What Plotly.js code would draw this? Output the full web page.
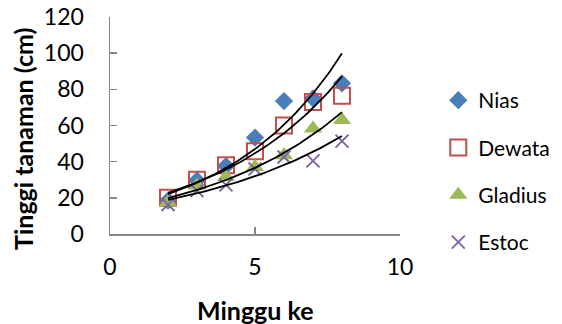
<!DOCTYPE html>
<html>
<head>
<meta charset="utf-8">
<script src="https://cdn.plot.ly/plotly-3.0.1.min.js"></script>
<style>html,body{margin:0;padding:0;background:#fff;}#chart{width:562px;height:324px;}</style>
</head>
<body>
<div id="chart"></div>
<script>
const weeks = [2, 3, 4, 5, 6, 7, 8];
const nias = [18.5, 29.6, 37.6, 53.3, 73.5, 75, 83.3];
const dewata = [20, 30, 38, 45.7, 60, 73, 76.5];
const gladius = [17.6, 26.8, 31.5, 37, 43.5, 58.3, 63];
const estoc = [16.3, 24, 27.2, 36, 42.6, 40.4, 51.4];
const seriesNames = ["Nias", "Dewata", "Gladius", "Estoc"];
const xTicks = [0, 5, 10];
const yTicks = [0, 20, 40, 60, 80, 100, 120];

const FONT = "Lato, 'Open Sans', sans-serif";

// Exponential trendline (least squares on ln y), as in the source chart
function expTrend(xs, ys) {
  const n = xs.length;
  const ly = ys.map(v => Math.log(v));
  const mx = xs.reduce((a, b) => a + b, 0) / n;
  const my = ly.reduce((a, b) => a + b, 0) / n;
  let sxy = 0, sxx = 0;
  for (let i = 0; i < n; i++) { sxy += (xs[i] - mx) * (ly[i] - my); sxx += (xs[i] - mx) ** 2; }
  const b = sxy / sxx, a = my - b * mx;
  const x0 = Math.min(...xs), x1 = Math.max(...xs);
  const tx = [], ty = [];
  for (let k = 0; k <= 60; k++) { const x = x0 + (x1 - x0) * k / 60; tx.push(x); ty.push(Math.exp(a + b * x)); }
  return {x: tx, y: ty};
}

const styles = [
  {symbol: "diamond", size: 14, color: "#4a7ebb", line: {width: 0}},
  {symbol: "square-open", size: 16, color: "#c0504d", line: {width: 2, color: "#c0504d"}},
  {symbol: "triangle-up", size: 16, color: "#9bbb59", line: {width: 0}},
  {symbol: "x-thin-open", size: 13, color: "#8064a2", line: {width: 1.9, color: "#8064a2"}}
];
const allY = [nias, dewata, gladius, estoc];

const traces = [];
allY.forEach((ys, i) => {
  traces.push({
    x: weeks, y: ys, type: "scatter", mode: "markers", name: seriesNames[i],
    legendgroup: "g" + i,
    marker: styles[i], cliponaxis: false
  });
});
allY.forEach((ys, i) => {
  const t = expTrend(weeks, ys);
  traces.push({
    x: t.x, y: t.y, type: "scatter", mode: "lines", showlegend: false,
    line: {color: "#000000", width: 1.8}, hoverinfo: "skip"
  });
});

const layout = {
  width: 562, height: 324,
  margin: {l: 110, r: 162, t: 17, b: 90, autoexpand: false},
  paper_bgcolor: "#ffffff", plot_bgcolor: "#ffffff",
  font: {family: FONT, size: 23, color: "#000000"},
  showlegend: true,
  legend: {
    x: 1.132, xanchor: "left", y: 0.288, yanchor: "middle",
    font: {family: FONT, size: 21, color: "#000"},
    tracegroupgap: 17, traceorder: "grouped", itemwidth: 30,
    bgcolor: "rgba(0,0,0,0)"
  },
  xaxis: {
    range: [0, 10], tickvals: xTicks, ticktext: xTicks.map(String),
    showgrid: false, zeroline: false, showline: true, linecolor: "#868686", linewidth: 1.5,
    ticks: "inside", ticklen: 7, tickcolor: "#868686", tickwidth: 1.5,
    ticklabelstandoff: 12,
    tickfont: {family: FONT, size: 23}, fixedrange: true
  },
  yaxis: {
    range: [0, 120], tickvals: yTicks, ticktext: yTicks.map(String),
    showgrid: false, zeroline: false, showline: true, linecolor: "#868686", linewidth: 1.5,
    ticks: "inside", ticklen: 7, tickcolor: "#868686", tickwidth: 1.5,
    ticklabelstandoff: 20,
    tickfont: {family: FONT, size: 23}, fixedrange: true
  },
  annotations: [
    {text: "<b>Minggu ke</b>", xref: "paper", yref: "paper", x: 0.5, y: -0.35, xanchor: "center", yanchor: "middle",
     showarrow: false, font: {family: FONT, size: 25}},
    {text: "<b>Tinggi tanaman (cm)</b>", xref: "paper", yref: "paper", x: -0.30, y: 0.438, xanchor: "center", yanchor: "middle",
     textangle: -90, showarrow: false, font: {family: FONT, size: 25}}
  ]
};

Plotly.newPlot("chart", traces, layout, {displayModeBar: false, staticPlot: true});
</script>
</body>
</html>
